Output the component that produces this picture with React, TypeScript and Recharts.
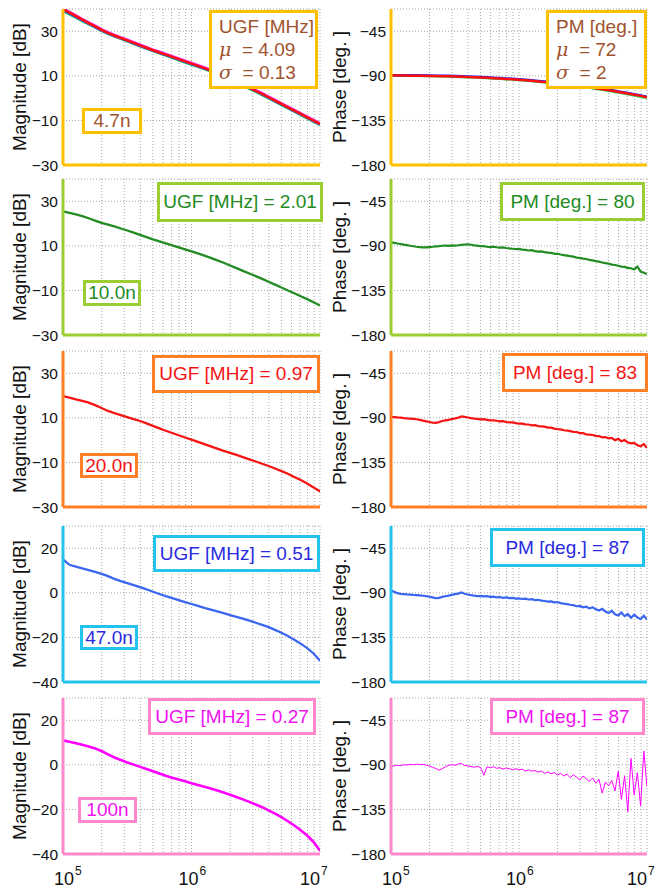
import React from 'react';
import { LineChart, Line, XAxis, YAxis, CartesianGrid } from 'recharts';

// frequency grids (Hz)
const fMag = [
  100000, 112202, 125893, 141254, 158489, 177828, 199526, 223872, 251189, 281838,
  316228, 354813, 398107, 446684, 501187, 562341, 630957, 707946, 794328, 891251,
  1000000, 1122018, 1258925, 1412538, 1584893, 1778279, 1995262, 2238721, 2511886, 2818383,
  3162278, 3548134, 3981072, 4466836, 5011872, 5623413, 6309573, 7079458, 7943282, 8912509,
  10000000,
];
const fPh = [
  100000, 105925, 112202, 118850, 125893, 133352, 141254, 149624, 158489, 167880,
  177828, 188365, 199526, 211349, 223872, 237137, 251189, 266073, 281838, 298538,
  316228, 334965, 354813, 375837, 398107, 421697, 446684, 473151, 501187, 530884,
  562341, 595662, 630957, 668344, 707946, 749894, 794328, 841395, 891251, 944061,
  1000000, 1059254, 1122018, 1188502, 1258925, 1333521, 1412538, 1496236, 1584893, 1678804,
  1778279, 1883649, 1995262, 2113489, 2238721, 2371374, 2511886, 2660725, 2818383, 2985383,
  3162278, 3349654, 3548134, 3758374, 3981072, 4216965, 4466836, 4731513, 5011872, 5308844,
  5623413, 5956621, 6309573, 6683439, 7079458, 7498942, 7943282, 8413951, 8912509, 9440609,
  10000000,
];
const gridFreqs = [
  100000, 200000, 300000, 400000, 500000, 600000, 700000, 800000, 900000,
  1000000, 2000000, 3000000, 4000000, 5000000, 6000000, 7000000, 8000000, 9000000,
  10000000,
];

const magTicksA = [-30, -10, 10, 30];
const magTicksB = [-40, -20, 0, 20];
const phaseTicks = [-180, -135, -90, -45];

// 4.7n : several overlaid measurements
const mag47Green = [
  39.0, 37.6, 36.1, 34.6, 33.1, 31.7, 30.2, 28.9, 27.7, 26.6,
  25.5, 24.4, 23.3, 22.2, 21.1, 20.1, 19.1, 18.1, 17.0, 16.0,
  15.0, 14.0, 13.0, 11.9, 10.7, 9.5, 8.2, 6.9, 5.6, 4.2,
  2.8, 1.4, -0.1, -1.6, -3.1, -4.6, -6.1, -7.6, -9.1, -10.6,
  -12.0,
];
const mag47Blue = [
  39.5, 38.0, 36.4, 34.9, 33.4, 31.9, 30.4, 29.1, 27.9, 26.8,
  25.7, 24.6, 23.5, 22.4, 21.3, 20.3, 19.3, 18.3, 17.3, 16.3,
  15.3, 14.3, 13.3, 12.2, 11.0, 9.8, 8.5, 7.2, 5.9, 4.5,
  3.1, 1.7, 0.2, -1.3, -2.8, -4.3, -5.8, -7.3, -8.8, -10.3,
  -11.8,
];
const mag47Magenta = [
  40.3, 38.7, 37.1, 35.5, 34.0, 32.5, 30.9, 29.6, 28.4, 27.3,
  26.2, 25.1, 24.0, 22.9, 21.8, 20.8, 19.8, 18.8, 17.8, 16.8,
  15.8, 14.8, 13.8, 12.7, 11.5, 10.3, 9.0, 7.7, 6.4, 5.0,
  3.6, 2.2, 0.7, -0.8, -2.3, -3.8, -5.3, -6.8, -8.3, -9.8,
  -11.3,
];
const mag47Red = [
  40.0, 38.4, 36.8, 35.2, 33.7, 32.2, 30.6, 29.3, 28.1, 27.0,
  25.9, 24.8, 23.7, 22.6, 21.5, 20.5, 19.5, 18.5, 17.5, 16.5,
  15.5, 14.5, 13.5, 12.4, 11.2, 10.0, 8.7, 7.4, 6.1, 4.7,
  3.3, 1.9, 0.4, -1.1, -2.6, -4.1, -5.6, -7.1, -8.6, -10.1,
  -11.6,
];
const ph47Green = [
  -89.6, -89.7, -89.8, -89.9, -90.0, -90.1, -90.2, -90.3, -90.5, -90.7,
  -90.9, -91.1, -91.3, -91.6, -91.9, -92.2, -92.6, -93.0, -93.4, -93.8,
  -94.3, -94.8, -95.3, -95.9, -96.5, -97.2, -97.9, -98.6, -99.4, -100.2,
  -101.1, -102.0, -103.0, -104.0, -105.1, -106.2, -107.3, -108.5, -109.7, -111.0,
  -112.4,
];
const ph47Blue = [
  -89.3, -89.3, -89.4, -89.4, -89.5, -89.6, -89.7, -89.8, -89.9, -90.0,
  -90.2, -90.4, -90.6, -90.9, -91.2, -91.5, -91.8, -92.2, -92.6, -93.0,
  -93.5, -94.0, -94.5, -95.1, -95.7, -96.3, -97.0, -97.7, -98.5, -99.3,
  -100.2, -101.1, -102.0, -103.0, -104.0, -105.1, -106.2, -107.3, -108.5, -109.7,
  -111.0,
];
const ph47Red = [
  -89.5, -89.6, -89.7, -89.8, -89.9, -90.0, -90.1, -90.2, -90.3, -90.5,
  -90.7, -90.9, -91.1, -91.4, -91.7, -92.0, -92.3, -92.7, -93.1, -93.5,
  -94.0, -94.5, -95.0, -95.6, -96.2, -96.8, -97.5, -98.2, -99.0, -99.8,
  -100.7, -101.6, -102.5, -103.5, -104.5, -105.6, -106.7, -107.8, -109.0, -110.2,
  -111.5,
];

// 10.0n
const mag10 = [
  25.5, 24.8, 24.1, 23.3, 22.4, 21.3, 20.3, 19.5, 18.7, 17.8,
  16.9, 15.9, 14.9, 13.9, 12.9, 12.0, 11.1, 10.2, 9.3, 8.4,
  7.5, 6.6, 5.6, 4.6, 3.5, 2.4, 1.2, 0.0, -1.2, -2.4,
  -3.6, -4.8, -6.1, -7.4, -8.7, -10.0, -11.3, -12.6, -13.9, -15.3,
  -16.8,
];
const ph10 = [
  -86.5, -87.0, -87.6, -88.1, -88.8, -89.3, -89.9, -90.4, -90.9, -91.3,
  -91.6, -91.5, -91.2, -90.9, -90.5, -90.3, -89.9, -89.8, -90.0, -89.6,
  -89.7, -89.4, -89.0, -88.7, -88.4, -88.9, -89.5, -89.8, -90.4, -90.2,
  -90.9, -91.3, -90.8, -91.4, -91.7, -91.5, -92.2, -92.6, -92.9, -93.3,
  -93.0, -93.8, -94.1, -94.7, -94.4, -95.3, -95.8, -95.6, -96.4, -96.9,
  -97.1, -97.8, -98.0, -98.7, -99.3, -99.8, -100.4, -100.9, -101.8, -102.1,
  -102.9, -103.3, -104.1, -104.6, -105.4, -105.9, -106.8, -107.4, -107.9, -108.9,
  -109.3, -110.1, -110.9, -111.2, -112.3, -112.6, -113.8, -111.0, -116.0, -117.2,
  -118.5,
];

// 20.0n
const mag20 = [
  19.8, 19.1, 18.3, 17.6, 16.8, 15.7, 14.4, 13.1, 12.1, 11.2,
  10.3, 9.4, 8.6, 7.5, 6.4, 5.3, 4.2, 3.2, 2.2, 1.2,
  0.2, -0.8, -1.8, -2.8, -3.8, -4.8, -5.7, -6.6, -7.6, -8.6,
  -9.6, -10.6, -11.6, -12.7, -13.9, -15.1, -16.5, -17.9, -19.5, -21.2,
  -23.0,
];
const ph20 = [
  -89.0, -89.3, -89.6, -89.8, -90.2, -90.5, -90.7, -91.0, -91.4, -92.0,
  -92.8, -93.5, -94.2, -94.8, -95.0, -94.3, -93.2, -92.6, -92.0, -91.2,
  -90.6, -89.8, -88.6, -89.0, -89.6, -90.3, -90.8, -91.0, -91.5, -91.3,
  -92.0, -92.6, -92.4, -92.9, -93.5, -93.3, -94.2, -94.6, -94.5, -95.3,
  -95.8, -95.9, -96.6, -96.7, -97.5, -97.4, -98.3, -98.6, -98.9, -99.8,
  -99.9, -100.9, -101.3, -101.6, -102.5, -102.8, -103.4, -104.2, -104.3, -105.4,
  -105.5, -106.6, -106.9, -107.3, -108.2, -108.4, -109.6, -109.4, -110.8, -110.3,
  -112.5, -111.2, -113.6, -112.4, -114.9, -115.8, -115.3, -117.6, -118.8, -116.4,
  -120.5,
];

// 47.0n
const mag470 = [
  15.0, 12.6, 11.8, 11.0, 10.2, 9.4, 8.5, 7.5, 6.3, 5.3,
  4.4, 3.5, 2.6, 1.6, 0.5, -0.5, -1.5, -2.4, -3.3, -4.2,
  -5.0, -5.8, -6.7, -7.5, -8.3, -9.1, -10.0, -10.8, -11.6, -12.5,
  -13.4, -14.4, -15.4, -16.6, -17.9, -19.4, -21.0, -22.8, -24.8, -27.2,
  -30.5,
];
const ph470 = [
  -87.5, -89.0, -90.3, -91.0, -91.3, -91.6, -91.8, -92.1, -92.3, -92.6,
  -92.9, -93.3, -93.9, -94.6, -95.4, -95.0, -94.1, -93.4, -92.8, -92.0,
  -91.3, -90.8, -89.6, -90.9, -91.7, -92.3, -92.8, -93.2, -93.0, -93.6,
  -93.4, -94.1, -93.8, -94.5, -94.2, -95.0, -94.6, -95.3, -95.1, -95.8,
  -95.5, -96.2, -95.9, -96.7, -96.4, -97.3, -97.0, -97.9, -98.2, -98.8,
  -98.6, -99.5, -99.3, -100.4, -100.9, -101.3, -102.0, -102.4, -103.5, -103.2,
  -104.6, -104.0, -105.7, -104.5, -106.6, -107.9, -106.2, -108.8, -110.4, -108.1,
  -111.6, -112.8, -109.9, -113.5, -111.4, -115.2, -112.0, -114.8, -116.6, -113.1,
  -117.0,
];

// 100n
const mag100 = [
  11.0, 10.4, 9.7, 9.0, 8.2, 7.3, 6.2, 4.7, 3.3, 2.2,
  1.1, 0.1, -0.9, -1.9, -2.9, -3.9, -4.9, -5.8, -6.6, -7.4,
  -8.2, -9.0, -9.8, -10.6, -11.5, -12.4, -13.4, -14.4, -15.5, -16.6,
  -17.8, -19.0, -20.4, -21.9, -23.5, -25.3, -27.2, -29.3, -31.7, -34.6,
  -38.5,
];
const ph100 = [
  -91.6, -91.0, -90.4, -90.8, -89.9, -90.2, -89.5, -89.8, -89.3, -89.7,
  -89.5, -90.3, -91.2, -92.5, -93.6, -95.4, -93.8, -92.0, -90.6, -89.8,
  -90.4, -89.2, -88.6, -90.5, -91.1, -91.8, -92.4, -91.6, -92.6, -100.5,
  -92.0, -93.0, -91.8, -93.5, -92.9, -94.3, -93.2, -94.0, -94.8, -93.9,
  -95.1, -94.4, -96.2, -95.0, -96.4, -95.8, -97.3, -96.2, -98.6, -97.1,
  -99.0, -97.8, -100.3, -98.6, -101.2, -99.4, -103.0, -100.1, -102.4, -105.2,
  -101.3, -104.0, -106.8, -103.2, -108.5, -104.6, -118.6, -107.3, -111.0, -105.8,
  -116.4, -96.5, -124.8, -101.0, -137.2, -83.5, -120.3, -98.0, -131.5, -76.0,
  -112.0,
];

const capLabels = ['4.7n', '10.0n', '20.0n', '47.0n', '100n'];
const ugfValues = ['4.09', '2.01', '0.97', '0.51', '0.27'];
const pmValues = ['72', '80', '83', '87', '87'];
const ugfSigma = '0.13';
const pmSigma = '2';

const FONT = '"Liberation Sans", Arial, Helvetica, sans-serif';
const PLOT_H = 156;
const MT = 10;
const MB = 10;
const YW = 44;

type Pt = { f: number; v: number };
const mk = (freqs: number[], values: number[]): Pt[] => values.map((v, i) => ({ f: freqs[i], v }));

type Trace = { data: Pt[]; color: string; width: number };

const fmt = (v: number) => (v < 0 ? '\u2212' + Math.abs(v) : String(v));

// shift of the "10" base relative to its tick, per exponent
const baseShift: Record<number, number> = { 5: 1, 6: -3, 7: -10 };

const DecadeTick = (props: any) => {
  const { x, payload, show, axisTop } = props;
  const v = payload.value;
  const exp = Math.round(Math.log10(v));
  if (!show || Math.abs(v - Math.pow(10, exp)) > 1) return <g />;
  const bx = x + (baseShift[exp] ?? 0);
  return (
    <g>
      <text x={bx} y={axisTop + 31} textAnchor="middle" fontSize={18} fontFamily={FONT} fill="#111">10</text>
      <text x={bx + 11} y={axisTop + 21} fontSize={12} fontFamily={FONT} fill="#111">{exp}</text>
    </g>
  );
};

type PanelProps = {
  left: number;
  bottom: number;
  width: number;
  plotLeft: number;
  plotRight: number;
  domain: [number, number];
  ticks: number[];
  frame: string;
  traces: Trace[];
  showX: boolean;
};

const Panel: React.FC<PanelProps> = (props: PanelProps) => {
  const { left, bottom, width, plotLeft, plotRight, domain, ticks, frame, traces, showX } = props;
  const xh = showX ? 38 : 3;
  const mb = showX ? 0 : MB;
  const h = MT + PLOT_H + xh + mb;
  return (
    <div style={{ position: 'absolute', left, top: bottom - PLOT_H - MT }}>
      <LineChart
        width={width}
        height={h}
        margin={{ top: MT, right: width - plotRight, bottom: mb, left: plotLeft - YW }}
      >
        <CartesianGrid stroke="#a8a8a8" strokeDasharray="1 2" />
        <XAxis
          dataKey="f"
          type="number"
          scale="log"
          domain={[100000, 10000000]}
          allowDataOverflow
          ticks={gridFreqs}
          interval={0}
          height={xh}
          axisLine={{ stroke: frame, strokeWidth: 3 }}
          tickLine={false}
          tick={<DecadeTick show={showX} axisTop={MT + PLOT_H} />}
        />
        <YAxis
          type="number"
          domain={domain}
          ticks={ticks}
          interval={0}
          allowDataOverflow
          width={YW}
          axisLine={{ stroke: frame, strokeWidth: 3 }}
          tickLine={false}
          tickSize={3}
          tickMargin={2}
          tickFormatter={fmt}
          tick={{ fontSize: 15.5, fill: '#111', fontFamily: FONT }}
        />
        {traces.map((t, i) => (
          <Line
            key={i}
            data={t.data}
            dataKey="v"
            type="linear"
            dot={false}
            stroke={t.color}
            strokeWidth={t.width}
            isAnimationActive={false}
          />
        ))}
      </LineChart>
    </div>
  );
};

type BoxProps = { x: number; y: number; w: number; h: number; border: string; color: string; children: React.ReactNode; multi?: boolean };

const Box: React.FC<BoxProps> = ({ x, y, w, h, border, color, children, multi }) => (
  <div
    style={{
      position: 'absolute',
      left: x,
      top: y,
      width: w,
      height: h,
      boxSizing: 'border-box',
      border: `3px solid ${border}`,
      background: '#fff',
      color,
      fontFamily: FONT,
      fontSize: 19,
      display: 'flex',
      flexDirection: multi ? 'column' : 'row',
      alignItems: multi ? 'flex-start' : 'center',
      justifyContent: 'center',
      paddingLeft: multi ? 7 : 0,
      lineHeight: multi ? '23px' : 'normal',
      whiteSpace: 'nowrap',
    }}
  >
    {children}
  </div>
);

const AxisTitle: React.FC<{ cx: number; cy: number; text: string }> = ({ cx, cy, text }) => (
  <div
    style={{
      position: 'absolute',
      left: cx,
      top: cy,
      transform: 'translate(-50%, -50%) rotate(-90deg)',
      whiteSpace: 'nowrap',
      fontFamily: FONT,
      fontSize: 19,
      color: '#111',
    }}
  >
    {text}
  </div>
);

const rows = [
  {
    bottom: 165, frame: '#ffc000', ink: '#a0522d', magDomain: [-30, 40] as [number, number], magTicks: magTicksA,
    mag: [
      { data: mk(fMag, mag47Green), color: '#22dd55', width: 2.5 },
      { data: mk(fMag, mag47Blue), color: '#3344ff', width: 2.5 },
      { data: mk(fMag, mag47Magenta), color: '#ff22ff', width: 2.5 },
      { data: mk(fMag, mag47Red), color: '#ff1010', width: 2.5 },
    ],
    ph: [
      { data: mk(fMag, ph47Green), color: '#22dd55', width: 2.5 },
      { data: mk(fMag, ph47Blue), color: '#2222ff', width: 2.5 },
      { data: mk(fMag, ph47Red), color: '#ff1010', width: 2.5 },
    ],
    ugfBox: { x: 209, y: 10, w: 109, h: 79 }, pmBox: { x: 546, y: 10, w: 101, h: 79 }, capBox: { x: 82, y: 108, w: 60, h: 26 },
  },
  {
    bottom: 335, frame: '#9acd32', ink: '#228b22', magDomain: [-30, 40] as [number, number], magTicks: magTicksA,
    mag: [{ data: mk(fMag, mag10), color: '#228b22', width: 2.3 }],
    ph: [{ data: mk(fPh, ph10), color: '#228b22', width: 2.2 }],
    ugfBox: { x: 157, y: 182, w: 166, h: 40 }, pmBox: { x: 500, y: 182, w: 145, h: 39 }, capBox: { x: 83, y: 280, w: 58, h: 26 },
  },
  {
    bottom: 507, frame: '#ff7f27', ink: '#f51414', magDomain: [-30, 40] as [number, number], magTicks: magTicksA,
    mag: [{ data: mk(fMag, mag20), color: '#f51414', width: 2.3 }],
    ph: [{ data: mk(fPh, ph20), color: '#f51414', width: 2.2 }],
    ugfBox: { x: 152, y: 355, w: 168, h: 38 }, pmBox: { x: 502, y: 353, w: 146, h: 39 }, capBox: { x: 80, y: 453, w: 58, h: 25 },
  },
  {
    bottom: 682, frame: '#22c4ee', ink: '#2a2ae0', magDomain: [-40, 30] as [number, number], magTicks: magTicksB,
    mag: [{ data: mk(fMag, mag470), color: '#3a66f0', width: 2.3 }],
    ph: [{ data: mk(fPh, ph470), color: '#3a66f0', width: 2.2 }],
    ugfBox: { x: 153, y: 535, w: 167, h: 37 }, pmBox: { x: 490, y: 528, w: 155, h: 39 }, capBox: { x: 80, y: 625, w: 58, h: 25 },
  },
  {
    bottom: 854, frame: '#ff88cc', ink: '#f010f0', magDomain: [-40, 30] as [number, number], magTicks: magTicksB,
    mag: [{ data: mk(fMag, mag100), color: '#ff00ff', width: 2.6 }],
    ph: [{ data: mk(fPh, ph100), color: '#ff00ff', width: 1 }],
    ugfBox: { x: 148, y: 698, w: 168, h: 37 }, pmBox: { x: 490, y: 698, w: 155, h: 37 }, capBox: { x: 78, y: 797, w: 59, h: 26 },
  },
];

const greek = { fontFamily: '"DejaVu Serif", serif', fontStyle: 'italic' as const };

const App: React.FC = () => {
  return (
    <div style={{ position: 'absolute', left: 0, top: 0, width: 655, height: 892, background: '#fff', overflow: 'hidden' }}>
      {rows.map((r, i) => (
        <React.Fragment key={i}>
          <Panel left={0} bottom={r.bottom} width={330} plotLeft={63} plotRight={320}
            domain={r.magDomain} ticks={r.magTicks} frame={r.frame} traces={r.mag} showX={i === rows.length - 1} />
          <Panel left={330} bottom={r.bottom} width={325} plotLeft={61} plotRight={317}
            domain={[-180, -22.5]} ticks={phaseTicks} frame={r.frame} traces={r.ph} showX={i === rows.length - 1} />
          <AxisTitle cx={20} cy={r.bottom - PLOT_H / 2} text="Magnitude [dB]" />
          <AxisTitle cx={340} cy={r.bottom - PLOT_H / 2} text="Phase [deg. ]" />
          {i === 0 ? (
            <>
              <Box {...r.ugfBox} border={r.frame} color={r.ink} multi>
                <div>UGF [MHz]</div>
                <div><span style={greek}>μ</span>&nbsp; = {ugfValues[i]}</div>
                <div><span style={greek}>σ</span>&nbsp; = {ugfSigma}</div>
              </Box>
              <Box {...r.pmBox} border={r.frame} color={r.ink} multi>
                <div>PM [deg.]</div>
                <div><span style={greek}>μ</span>&nbsp; = {pmValues[i]}</div>
                <div><span style={greek}>σ</span>&nbsp; = {pmSigma}</div>
              </Box>
            </>
          ) : (
            <>
              <Box {...r.ugfBox} border={r.frame} color={r.ink}>UGF [MHz] = {ugfValues[i]}</Box>
              <Box {...r.pmBox} border={r.frame} color={r.ink}>PM [deg.] = {pmValues[i]}</Box>
            </>
          )}
          <Box {...r.capBox} border={r.frame} color={r.ink}>{capLabels[i]}</Box>
        </React.Fragment>
      ))}
    </div>
  );
};

export default App;
